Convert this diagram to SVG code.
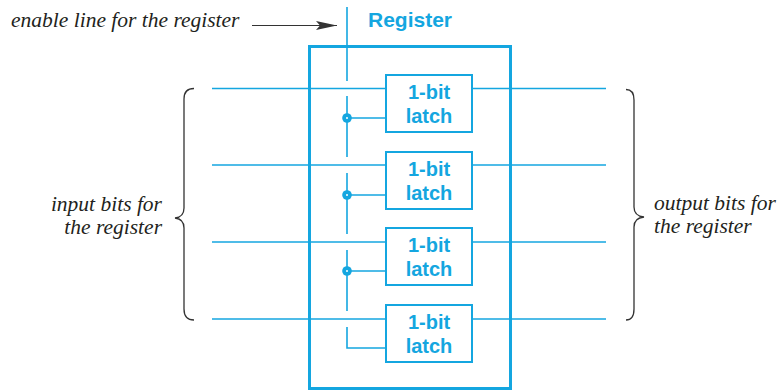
<svg xmlns="http://www.w3.org/2000/svg" width="779" height="392" viewBox="0 0 779 392">
<defs>
<style>
.w{stroke:#14a6e0;stroke-width:1.6;fill:none}
.box{stroke:#14a6e0;stroke-width:2;fill:#fff}
.outer{stroke:#14a6e0;stroke-width:3;fill:none}
.lt{font-family:"Liberation Sans",Arial,sans-serif;font-weight:bold;font-size:20px;fill:#14a6e0;text-anchor:middle}
.it{font-family:"Liberation Serif","Times New Roman",serif;font-style:italic;font-size:21.5px;fill:#231f20}
.br{stroke:#333;stroke-width:1.3;fill:none}
.dot{fill:#14a6e0;stroke:none}
</style>
<marker id="ah" viewBox="0 0 21 10" refX="21" refY="5" markerWidth="21" markerHeight="10" markerUnits="userSpaceOnUse" orient="auto">
<path d="M0,0.5 L21,5 L0,9.5 L4,5 Z" fill="#333"/>
</marker>
</defs>
<g id="register">
<rect class="outer" x="309.5" y="46.5" width="201" height="342"/>
<text x="410" y="27" class="lt" style="font-size:21px">Register</text>
</g>
<g id="connectors">
<line class="w" x1="212" y1="88.5" x2="386" y2="88.5"/>
<line class="w" x1="212" y1="165" x2="386" y2="165"/>
<line class="w" x1="212" y1="242" x2="386" y2="242"/>
<line class="w" x1="212" y1="319" x2="386" y2="319"/>
<line class="w" x1="472" y1="88.5" x2="606" y2="88.5"/>
<line class="w" x1="472" y1="165" x2="606" y2="165"/>
<line class="w" x1="472" y1="242" x2="606" y2="242"/>
<line class="w" x1="472" y1="319" x2="606" y2="319"/>
<line class="w" x1="347" y1="7" x2="347" y2="81"/>
<line class="w" x1="347" y1="96" x2="347" y2="157"/>
<line class="w" x1="347" y1="173" x2="347" y2="234"/>
<line class="w" x1="347" y1="250" x2="347" y2="311"/>
<path class="w" d="M347,327 V348 H386"/>
<line class="w" x1="347" y1="118" x2="386" y2="118"/>
<line class="w" x1="347" y1="195" x2="386" y2="195"/>
<line class="w" x1="347" y1="271" x2="386" y2="271"/>
<circle class="dot" cx="347" cy="118" r="4.8"/>
<circle class="dot" cx="347" cy="195" r="4.8"/>
<circle class="dot" cx="347" cy="271" r="4.8"/>
<circle cx="347" cy="118" r="1" fill="#fff"/>
<circle cx="347" cy="195" r="1" fill="#fff"/>
<circle cx="347" cy="271" r="1" fill="#fff"/>
<line x1="252" y1="25.5" x2="337" y2="25.5" stroke="#333" stroke-width="1.2" marker-end="url(#ah)"/>
</g>
<g id="latch1">
<rect class="box" x="386" y="75" width="86" height="57"/>
<text class="lt" x="429" y="99">1-bit</text>
<text class="lt" x="429" y="123">latch</text>
</g>
<g id="latch2">
<rect class="box" x="386" y="152" width="86" height="57"/>
<text class="lt" x="429" y="176">1-bit</text>
<text class="lt" x="429" y="200">latch</text>
</g>
<g id="latch3">
<rect class="box" x="386" y="228" width="86" height="57"/>
<text class="lt" x="429" y="252">1-bit</text>
<text class="lt" x="429" y="276">latch</text>
</g>
<g id="latch4">
<rect class="box" x="386" y="305" width="86" height="57"/>
<text class="lt" x="429" y="329">1-bit</text>
<text class="lt" x="429" y="353">latch</text>
</g>
<g id="labels">
<text class="it" x="11" y="27">enable line for the register</text>
<text class="it" x="162" y="211" text-anchor="end">input bits for</text>
<text class="it" x="162" y="234" text-anchor="end">the register</text>
<text class="it" x="654" y="210">output bits for</text>
<text class="it" x="654" y="233">the register</text>
<path class="br" d="M194,88.5 Q184,88.5 184,99 V208 Q184,217 175,218 Q184,219 184,228 V309 Q184,320 194,320"/>
<path class="br" d="M626,89.5 Q634,89.5 634,100 V207 Q634,216 644,217 Q634,218 634,227 V309 Q634,320 626,320"/>
</g>
</svg>
